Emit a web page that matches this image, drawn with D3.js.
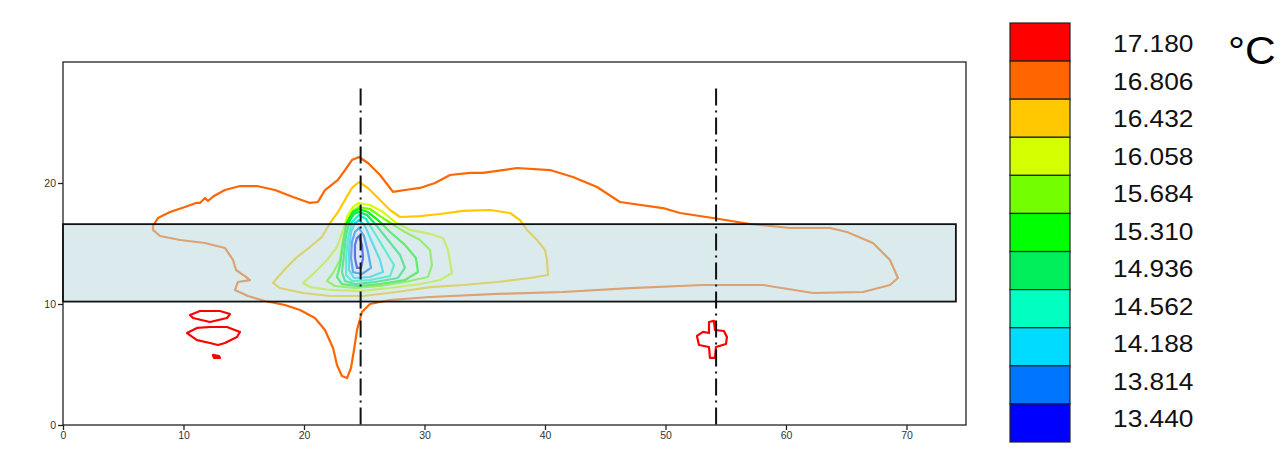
<!DOCTYPE html>
<html><head><meta charset="utf-8">
<script src="https://cdn.jsdelivr.net/npm/d3@7"></script>
<style>html,body{margin:0;padding:0;background:#fff;}svg{display:block;}</style>
</head><body>
<svg id="c" width="1282" height="451"></svg>
<script>
// ---- data ----
const levels = [17.180, 16.806, 16.432, 16.058, 15.684, 15.310, 14.936, 14.562, 14.188, 13.814, 13.440];
const levelColors = ["#ff0000","#ff6600","#ffc800","#d4ff00","#73ff00","#00ff00","#00ee5a","#00ffc0","#00dcff","#0075ff","#0000ff"];
const xTicks = [0,10,20,30,40,50,60,70];
const yTicks = [0,10,20];
const sectionLines = [24.7, 54.2];
const slab = {x0: 0, x1: 74.1, y0: 10.2, y1: 16.6};

const c16806 = [[7.47,16.45],[7.88,17.11],[8.88,17.60],[10.12,18.02],[11.04,18.35],[11.37,18.35],[11.78,18.76],[12.03,18.51],[12.53,18.93],[13.44,19.42],[14.69,19.75],[16.10,19.75],[17.59,19.42],[19.09,18.84],[20.50,18.35],[21.16,18.43],[21.74,19.42],[22.82,20.25],[23.40,21.07],[23.98,21.90],[24.56,22.15],[25.31,21.65],[26.31,20.66],[27.39,19.26],[28.38,19.42],[29.63,19.59],[30.87,20.00],[32.12,20.66],[33.78,20.83],[34.85,20.83],[37.68,21.24],[40.41,21.07],[42.32,20.50],[44.32,19.67],[46.22,18.43],[49.79,17.93],[51.20,17.52],[53.94,17.11],[57.01,16.61],[60.33,16.28],[63.65,16.28],[65.06,15.95],[67.22,15.04],[68.63,13.64],[69.29,12.15],[68.63,11.57],[66.39,10.99],[62.24,10.91],[58.09,11.57],[53.11,11.57],[47.05,11.32],[41.49,10.99],[36.02,10.83],[30.46,10.58],[27.14,10.33],[25.48,10.00],[24.81,9.34],[24.40,7.85],[24.15,6.20],[23.90,4.71],[23.57,3.88],[23.15,4.05],[22.74,4.96],[22.41,6.36],[21.74,7.85],[20.91,8.84],[19.67,9.50],[18.42,9.92],[16.76,10.25],[15.35,10.66],[14.27,11.16],[14.52,11.82],[15.52,11.98],[15.10,12.31],[14.36,12.81],[14.11,13.64],[13.44,14.63],[11.78,15.04],[9.71,15.29],[8.05,15.62],[7.47,16.12]];
const c16432 = [[24.56,20.08],[25.31,19.59],[26.14,18.76],[27.14,17.77],[27.97,17.19],[29.63,17.27],[31.29,17.44],[33.20,17.69],[35.44,17.77],[37.10,17.52],[37.93,16.94],[38.51,16.12],[39.34,15.29],[40.00,14.46],[40.17,13.64],[40.25,12.40],[38.76,12.15],[36.02,11.82],[33.20,11.57],[30.46,11.40],[27.72,10.99],[24.90,10.66],[22.16,10.66],[19.92,10.91],[18.01,11.32],[17.43,11.74],[17.84,12.23],[18.59,13.06],[19.42,13.88],[20.50,14.71],[21.49,15.54],[22.16,16.69],[22.82,17.60],[23.40,18.60],[23.98,19.59]];
const c16058 = [[24.56,18.35],[25.48,18.18],[26.56,17.60],[27.55,16.78],[28.80,16.12],[30.46,15.79],[31.54,15.45],[31.95,14.46],[32.28,12.56],[31.29,11.98],[29.63,11.65],[27.14,11.32],[24.65,11.07],[22.16,11.16],[20.50,11.40],[19.92,11.74],[20.50,12.23],[21.08,12.81],[21.91,13.64],[22.74,14.71],[23.24,16.12],[23.65,17.36],[24.07,18.02]];
const c15684 = [[24.56,18.02],[25.48,17.85],[26.31,17.27],[27.30,16.61],[28.38,15.95],[29.63,15.29],[30.46,14.46],[30.62,13.22],[30.29,12.23],[28.38,11.82],[26.31,11.49],[24.23,11.32],[22.57,11.49],[21.91,11.90],[22.41,12.56],[22.99,13.64],[23.24,15.29],[23.57,16.78],[24.07,17.69]];
const c15310 = [[24.56,17.85],[25.31,17.60],[26.14,16.94],[27.14,15.95],[28.38,14.88],[29.29,13.80],[29.46,12.64],[28.38,11.98],[26.31,11.65],[24.48,11.49],[23.15,11.65],[22.74,12.23],[22.99,13.22],[23.24,14.88],[23.49,16.53],[23.98,17.52]];
const c14936 = [[24.56,17.60],[25.23,17.36],[25.98,16.53],[26.97,15.29],[27.97,14.05],[28.38,12.98],[27.80,12.15],[25.89,11.82],[24.23,11.65],[23.40,11.90],[23.15,12.64],[23.32,14.05],[23.49,15.70],[23.82,16.94],[24.15,17.44]];
const c14562 = [[24.56,17.36],[25.15,17.02],[25.81,15.95],[26.72,14.46],[27.47,13.22],[27.14,12.31],[25.48,11.98],[23.98,11.90],[23.49,12.40],[23.49,13.80],[23.65,15.45],[23.98,16.78]];
const c14188 = [[24.56,16.94],[25.06,16.45],[25.64,15.12],[26.31,13.64],[26.56,12.64],[25.48,12.23],[24.15,12.15],[23.73,12.81],[23.73,14.46],[23.90,15.95],[24.23,16.69]];
const c13814 = [[24.56,16.28],[24.98,15.62],[25.31,14.30],[25.56,12.98],[24.81,12.48],[24.07,12.64],[23.90,13.80],[23.98,15.12],[24.23,15.95]];
const c13440 = [[24.56,15.62],[24.81,14.88],[24.90,13.80],[24.73,12.98],[24.40,12.98],[24.23,13.80],[24.23,14.88],[24.40,15.45]];
const c17180a = [[10.54,9.09],[11.37,9.42],[13.03,9.42],[13.86,9.17],[13.61,8.84],[12.20,8.51],[10.79,8.84]];
const c17180b = [[10.29,7.60],[11.12,8.02],[12.20,8.10],[13.61,8.10],[14.69,7.69],[14.44,7.27],[13.44,6.78],[12.86,6.61],[12.20,6.78],[11.12,7.02]];
const c17180c = [[12.45,5.79],[12.95,5.70],[13.03,5.54],[12.53,5.54]];
const c17180d = [[53.61,8.51],[54.02,8.60],[54.11,7.85],[54.85,7.77],[55.10,7.27],[55.02,6.69],[54.19,6.45],[54.11,5.54],[53.69,5.54],[53.61,6.45],[52.78,6.61],[52.61,7.36],[53.11,7.69],[53.61,7.60]];

const contours = [
  {level: 17.180, pts: c17180a}, {level: 17.180, pts: c17180b}, {level: 17.180, pts: c17180c, filled: true}, {level: 17.180, pts: c17180d},
  {level: 16.806, pts: c16806}, {level: 16.432, pts: c16432}, {level: 16.058, pts: c16058},
  {level: 15.684, pts: c15684}, {level: 15.310, pts: c15310}, {level: 14.936, pts: c14936},
  {level: 14.562, pts: c14562}, {level: 14.188, pts: c14188}, {level: 13.814, pts: c13814}, {level: 13.440, pts: c13440}
];

// ---- drawing ----
const svg = d3.select("#c");
const m = {l: 63, r: 966, t: 62, b: 425};
const x = d3.scaleLinear().domain([0, 74.94]).range([m.l, m.r]);
const y = d3.scaleLinear().domain([0, 30]).range([m.b, m.t]);
const color = d3.scaleOrdinal().domain(levels).range(levelColors);

// frame
svg.append("rect").attr("x", m.l).attr("y", m.t).attr("width", m.r - m.l).attr("height", m.b - m.t)
  .attr("fill", "none").attr("stroke", "#222").attr("stroke-width", 1.3);

const line = d3.line().x(d => x(d[0])).y(d => y(d[1])).curve(d3.curveLinearClosed);
svg.append("g").selectAll("path").data(contours).join("path")
  .attr("d", d => line(d.pts)).attr("fill", d => d.filled ? color(d.level) : "none")
  .attr("stroke", d => color(d.level)).attr("stroke-width", 2.2).attr("stroke-linejoin", "round");

// slab overlay
svg.append("rect").attr("x", x(slab.x0)).attr("y", y(slab.y1))
  .attr("width", x(slab.x1) - x(slab.x0)).attr("height", y(slab.y0) - y(slab.y1))
  .attr("fill", "rgb(186,217,221)").attr("fill-opacity", 0.52)
  .attr("stroke", "#111").attr("stroke-width", 1.8);

// section lines
svg.append("g").selectAll("line").data(sectionLines).join("line")
  .attr("x1", d => x(d)).attr("x2", d => x(d)).attr("y1", y(27.8)).attr("y2", y(0))
  .attr("stroke", "#111").attr("stroke-width", 2).attr("stroke-dasharray", "17,5,2,5");

// axes
const xa = svg.append("g").attr("transform", `translate(0,${m.b})`)
  .call(d3.axisBottom(x).tickValues(xTicks).tickSize(5).tickPadding(2));
const ya = svg.append("g").attr("transform", `translate(${m.l},0)`)
  .call(d3.axisLeft(y).tickValues(yTicks).tickSize(5).tickPadding(2));
[xa, ya].forEach(a => {
  a.select(".domain").remove();
  a.selectAll("line").attr("stroke", "#222").attr("stroke-width", 1.3);
  a.selectAll("text").attr("font-family", "Liberation Sans, Arial, sans-serif").attr("font-size", 10.5).attr("fill", "#333");
});

// legend
const lg = svg.append("g");
const by = d3.scaleBand().domain(levels).range([23, 442]).paddingInner(0);
lg.selectAll("rect").data(levels).join("rect")
  .attr("x", 1010).attr("width", 60).attr("y", d => by(d)).attr("height", by.bandwidth())
  .attr("fill", d => color(d)).attr("stroke", "#222").attr("stroke-width", 1.2);
const ly = d3.scalePoint().domain(levels).range([44, 419]);
lg.selectAll("text.lab").data(levels).join("text").attr("class", "lab")
  .attr("transform", d => `translate(1113,${ly(d)}) scale(1.12,1)`).attr("dy", "0.36em")
  .attr("font-family", "Liberation Sans, Arial, sans-serif").attr("font-size", 23.5).attr("fill", "#111")
  .text(d => d3.format(".3f")(d));
lg.append("text").attr("transform", "translate(1228,50) scale(1.12,1)").attr("dy", "0.36em")
  .attr("font-family", "Liberation Sans, Arial, sans-serif").attr("font-size", 38).attr("fill", "#000")
  .text("°C");
</script>
</body></html>
